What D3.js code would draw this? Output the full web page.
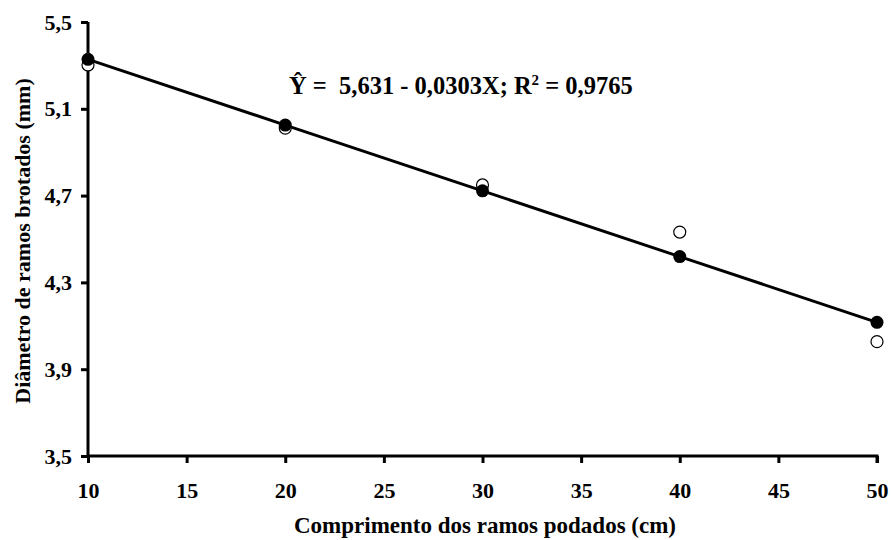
<!DOCTYPE html>
<html>
<head>
<meta charset="utf-8">
<script src="https://cdn.jsdelivr.net/npm/d3@7"></script>
<style>
  body { margin: 0; background: #fff; }
  text { font-family: "Liberation Serif", "Times New Roman", serif; font-weight: bold; fill: #000; white-space: pre; }
</style>
</head>
<body>
<svg id="plot" width="891" height="540"></svg>
<script>
// data
const comprimento = [10, 20, 30, 40, 50];
const observado = [5.302, 5.011, 4.749, 4.532, 4.027];
const estimado = [5.328, 5.025, 4.722, 4.419, 4.116];
const xTicks = [10, 15, 20, 25, 30, 35, 40, 45, 50];
const yTicks = [3.5, 3.9, 4.3, 4.7, 5.1, 5.5];

const svg = d3.select("#plot");
const margin = { top: 22, right: 14, bottom: 84, left: 88 };
const width = +svg.attr("width");
const height = +svg.attr("height");
const chartWidth = width - margin.left - margin.right;
const chartHeight = height - margin.top - margin.bottom;

const g = svg.append("g").attr("transform", `translate(${margin.left},${margin.top})`);

const x = d3.scaleLinear().domain([10, 50]).range([0, chartWidth]);
const y = d3.scaleLinear().domain([3.5, 5.5]).range([chartHeight, 0]);
const fmt = (d) => d3.format(".1f")(d).replace(".", ",");

// axes
const xAxis = g.append("g")
  .attr("transform", `translate(0,${chartHeight})`)
  .call(d3.axisBottom(x).tickValues(xTicks).tickSize(7).tickPadding(19).tickSizeOuter(7));
const yAxis = g.append("g")
  .call(d3.axisLeft(y).tickValues(yTicks).tickFormat(fmt).tickSize(7).tickPadding(9).tickSizeOuter(0));

[xAxis, yAxis].forEach((a) => {
  a.select(".domain").attr("stroke", "#000").attr("stroke-width", 3);
  a.selectAll(".tick line").attr("stroke", "#000").attr("stroke-width", 3);
  a.selectAll(".tick text").attr("font-size", 22).attr("font-family", null);
});
xAxis.select(".domain").attr("d", `M0,0H${chartWidth}V7`);
yAxis.select(".domain").attr("d", `M0,0V${chartHeight}`);

// regression line
const line = d3.line().x((d, i) => x(comprimento[i])).y((d) => y(d));
g.append("path")
  .datum(estimado)
  .attr("d", line)
  .attr("fill", "none")
  .attr("stroke", "#000")
  .attr("stroke-width", 3);

// observed (open) and estimated (filled) points
g.selectAll(".obs")
  .data(observado)
  .enter()
  .append("circle")
  .attr("cx", (d, i) => x(comprimento[i]))
  .attr("cy", (d) => y(d))
  .attr("r", 6)
  .attr("fill", "#fff")
  .attr("stroke", "#000")
  .attr("stroke-width", 1.2);

g.selectAll(".est")
  .data(estimado)
  .enter()
  .append("circle")
  .attr("cx", (d, i) => x(comprimento[i]))
  .attr("cy", (d) => y(d))
  .attr("r", 6.5)
  .attr("fill", "#000");

// equation
const eq = svg.append("text").attr("x", 289).attr("y", 94).attr("font-size", 24.5);
eq.append("tspan").text("Ŷ =  5,631 - 0,0303X; R");
eq.append("tspan").attr("font-size", 15).attr("dy", -9).text("2");
eq.append("tspan").attr("dy", 9).text(" = 0,9765");

// axis titles
svg.append("text")
  .attr("x", 485)
  .attr("y", 533)
  .attr("text-anchor", "middle")
  .attr("font-size", 23)
  .text("Comprimento dos ramos podados (cm)");

svg.append("text")
  .attr("transform", `translate(30,${margin.top + chartHeight / 2 + 2}) rotate(-90)`)
  .attr("text-anchor", "middle")
  .attr("font-size", 22)
  .text("Diâmetro de ramos brotados (mm)");
</script>
</body>
</html>
